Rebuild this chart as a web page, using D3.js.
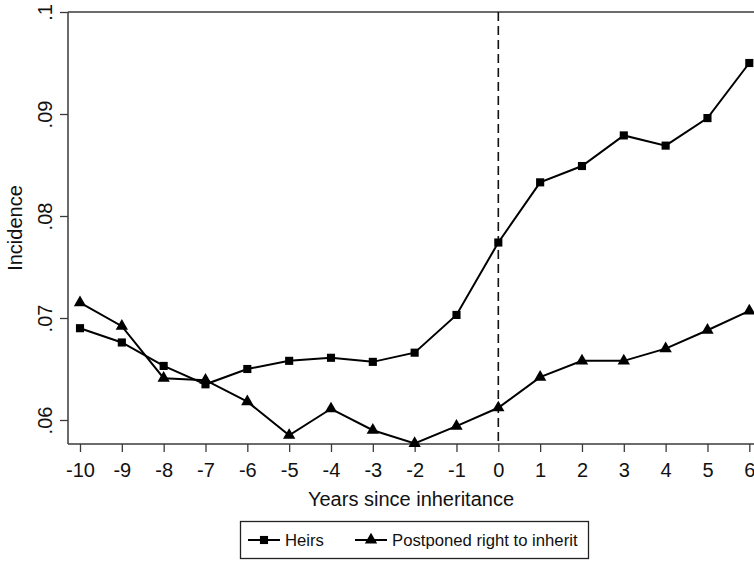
<!DOCTYPE html>
<html>
<head>
<meta charset="utf-8">
<script src="https://cdn.jsdelivr.net/npm/d3@7"></script>
<style>
  body { margin: 0; background: #fff; }
  svg { display: block; font-family: "Liberation Sans", Arial, sans-serif; }
</style>
</head>
<body>
<svg id="chart" width="754" height="562"></svg>
<script>
// years relative to inheritance
const years = [-10, -9, -8, -7, -6, -5, -4, -3, -2, -1, 0, 1, 2, 3, 4, 5, 6];

const heirs = [0.0690, 0.0676, 0.0653, 0.0635, 0.0650, 0.0658, 0.0661, 0.0657, 0.0666,
  0.0703, 0.0774, 0.0833, 0.0849, 0.0879, 0.0869, 0.0896, 0.0950];

const postponed = [0.0715, 0.0692, 0.0641, 0.0639, 0.0618, 0.0585, 0.0611, 0.0590, 0.0577,
  0.0594, 0.0612, 0.0642, 0.0658, 0.0658, 0.0670, 0.0688, 0.0707];

const yTicks = [0.06, 0.07, 0.08, 0.09, 0.1];
const yTickLabels = [".06", ".07", ".08", ".09", ".1"];

const seriesNames = ["Heirs", "Postponed right to inherit"];

const svg = d3.select("#chart");
const plot = { left: 68, right: 754, top: 12, bottom: 444 };
const axisColor = "#3a3a3a";

const x = d3.scaleLinear()
  .domain([-10, 6])
  .range([80, 749.3]);

const y = d3.scaleLinear()
  .domain([0.06, 0.1])
  .range([420, 12]);

// top frame line
svg.append("line")
  .attr("x1", plot.left).attr("x2", plot.right)
  .attr("y1", plot.top).attr("y2", plot.top)
  .attr("stroke", axisColor).attr("stroke-width", 1.5);

// x axis (plain hyphen for negatives, like the original)
const xAxis = svg.append("g")
  .attr("transform", `translate(0,${plot.bottom})`)
  .call(d3.axisBottom(x).tickValues(years).tickSize(8).tickSizeOuter(0)
    .tickFormat(d => String(d)));
xAxis.select(".domain").remove();
xAxis.append("line")
  .attr("x1", plot.left).attr("x2", plot.right)
  .attr("stroke", axisColor).attr("stroke-width", 1.5);
xAxis.selectAll(".tick line").attr("stroke", axisColor).attr("stroke-width", 1.3);
xAxis.selectAll(".tick text")
  .attr("fill", "#111")
  .attr("dy", null)
  .attr("y", 33)
  .style("font-size", "20px")
  .style("font-family", "'Liberation Sans', Arial, sans-serif");

// y axis
const yAxis = svg.append("g")
  .attr("transform", `translate(${plot.left},0)`)
  .call(d3.axisLeft(y).tickValues(yTicks).tickSize(8).tickSizeOuter(0)
    .tickFormat((d, i) => yTickLabels[i]));
yAxis.select(".domain").remove();
yAxis.append("line")
  .attr("y1", plot.top).attr("y2", plot.bottom)
  .attr("stroke", axisColor).attr("stroke-width", 1.5);
yAxis.selectAll(".tick line").attr("stroke", axisColor).attr("stroke-width", 1.3);
yAxis.selectAll(".tick text")
  .attr("fill", "#111")
  .attr("x", null).attr("dy", null)
  .attr("text-anchor", "middle")
  .attr("transform", "translate(-16,0) rotate(-90)")
  .style("font-size", "20px")
  .style("font-family", "'Liberation Sans', Arial, sans-serif");

// axis titles
svg.append("text")
  .attr("x", (plot.left + plot.right) / 2)
  .attr("y", 506)
  .attr("text-anchor", "middle")
  .attr("fill", "#111")
  .style("font-size", "20px")
  .text("Years since inheritance");

svg.append("text")
  .attr("transform", `translate(22,${(plot.top + plot.bottom) / 2}) rotate(-90)`)
  .attr("text-anchor", "middle")
  .attr("fill", "#111")
  .style("font-size", "20px")
  .text("Incidence");

// reference line at year 0
svg.append("line")
  .attr("x1", x(0)).attr("x2", x(0))
  .attr("y1", plot.top).attr("y2", plot.bottom)
  .attr("stroke", "#111")
  .attr("stroke-width", 1.6)
  .attr("stroke-dasharray", "9,5");

const line = d3.line()
  .x((d, i) => x(years[i]))
  .y(d => y(d));

const square = d3.symbol().type(d3.symbolSquare).size(66);
const triangle = d3.symbol().type(d3.symbolTriangle).size(66);

[[heirs, square], [postponed, triangle]].forEach(([values, sym]) => {
  svg.append("path")
    .datum(values)
    .attr("fill", "none")
    .attr("stroke", "#000")
    .attr("stroke-width", 2)
    .attr("d", line);

  svg.append("g").selectAll("path")
    .data(values)
    .join("path")
    .attr("transform", (d, i) => `translate(${x(years[i])},${y(d)})`)
    .attr("d", sym())
    .attr("fill", "#000");
});

// legend
const legend = svg.append("g");
legend.append("rect")
  .attr("x", 240.5).attr("y", 521.5)
  .attr("width", 348).attr("height", 37)
  .attr("fill", "#fff")
  .attr("stroke", "#222")
  .attr("stroke-width", 1.3);

const legendItems = [
  { name: seriesNames[0], sym: square, x0: 248 },
  { name: seriesNames[1], sym: triangle, x0: 355 }
];
legendItems.forEach(item => {
  legend.append("line")
    .attr("x1", item.x0).attr("x2", item.x0 + 32)
    .attr("y1", 540).attr("y2", 540)
    .attr("stroke", "#000").attr("stroke-width", 2);
  legend.append("path")
    .attr("transform", `translate(${item.x0 + 16},540)`)
    .attr("d", item.sym())
    .attr("fill", "#000");
  legend.append("text")
    .attr("x", item.x0 + 37)
    .attr("y", 546)
    .attr("fill", "#111")
    .style("font-size", "16.7px")
    .text(item.name);
});
</script>
</body>
</html>
